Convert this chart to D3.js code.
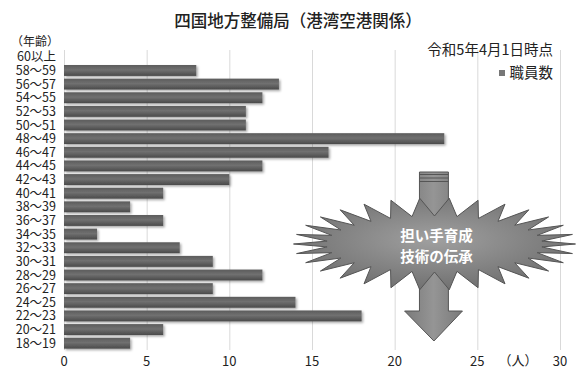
<!DOCTYPE html>
<html>
<head>
<meta charset="utf-8">
<script src="https://cdn.jsdelivr.net/npm/d3@7"></script>
<style>
  body { margin: 0; background: #fff; }
  svg { font-family: "Noto Sans CJK JP", "Noto Sans", sans-serif; }
</style>
</head>
<body>
<div id="chart"></div>
<script>
// age groups, top to bottom
const ages = ["60以上", "58～59", "56～57", "54～55", "52～53", "50～51", "48～49", "46～47",
  "44～45", "42～43", "40～41", "38～39", "36～37", "34～35", "32～33", "30～31",
  "28～29", "26～27", "24～25", "22～23", "20～21", "18～19"];
// 職員数 per age group
const staff = [0, 8, 13, 12, 11, 11, 23, 16, 12, 10, 6, 4, 6, 2, 7, 9, 12, 9, 14, 18, 6, 4];
const xTicks = [0, 5, 10, 15, 20, 25, 30];

const width = 576;
const height = 371;
const margin = { top: 50, right: 16, bottom: 21, left: 64 };

const svg = d3.select("#chart").append("svg")
  .attr("width", width)
  .attr("height", height);

const defs = svg.append("defs");

// bar shading
const barGrad = defs.append("linearGradient")
  .attr("id", "barGrad")
  .attr("x1", 0).attr("y1", 0).attr("x2", 0).attr("y2", 1);
barGrad.append("stop").attr("offset", "0%").attr("stop-color", "#5c5c5c");
barGrad.append("stop").attr("offset", "45%").attr("stop-color", "#707070");
barGrad.append("stop").attr("offset", "100%").attr("stop-color", "#4a4a4a");

const shadow = defs.append("filter").attr("id", "shadow")
  .attr("x", "-5%").attr("y", "-30%").attr("width", "115%").attr("height", "170%");
shadow.append("feDropShadow")
  .attr("dx", 1.5).attr("dy", 1.5).attr("stdDeviation", 1.2)
  .attr("flood-color", "#000").attr("flood-opacity", 0.35);

const burstGrad = defs.append("radialGradient")
  .attr("id", "burstGrad").attr("cx", "50%").attr("cy", "45%").attr("r", "60%");
burstGrad.append("stop").attr("offset", "0%").attr("stop-color", "#a0a0a0");
burstGrad.append("stop").attr("offset", "100%").attr("stop-color", "#6c6c6c");

const arrowGrad = defs.append("linearGradient")
  .attr("id", "arrowGrad").attr("x1", 0).attr("y1", 0).attr("x2", 1).attr("y2", 0);
arrowGrad.append("stop").attr("offset", "0%").attr("stop-color", "#7a7a7a");
arrowGrad.append("stop").attr("offset", "50%").attr("stop-color", "#959595");
arrowGrad.append("stop").attr("offset", "100%").attr("stop-color", "#7a7a7a");

// Scales
const xScale = d3.scaleLinear()
  .domain([0, 30])
  .range([margin.left, width - margin.right]);

const yScale = d3.scaleBand()
  .domain(ages)
  .range([margin.top, height - margin.bottom])
  .paddingInner(0.2)
  .paddingOuter(0.1);

// vertical grid lines
svg.append("g")
  .attr("class", "grid")
  .attr("transform", `translate(0,${height - margin.bottom})`)
  .call(d3.axisBottom(xScale).tickValues(xTicks).tickSize(-(height - margin.top - margin.bottom)).tickFormat(""))
  .call(g => g.select(".domain").remove())
  .call(g => g.selectAll("line").attr("stroke", "#d9d9d9").attr("stroke-width", 1));

// bars
svg.append("g")
  .selectAll("rect")
  .data(staff)
  .join("rect")
  .attr("x", xScale(0))
  .attr("y", (d, i) => yScale(ages[i]))
  .attr("width", d => xScale(d) - xScale(0))
  .attr("height", yScale.bandwidth())
  .attr("fill", "url(#barGrad)")
  .attr("filter", "url(#shadow)");

// y labels
svg.append("g")
  .selectAll("text")
  .data(ages)
  .join("text")
  .attr("x", 56)
  .attr("y", d => yScale(d) + yScale.bandwidth() / 2)
  .attr("dy", "0.36em")
  .attr("text-anchor", "end")
  .attr("font-size", 12.5)
  .attr("fill", "#222")
  .text(d => d);

// x tick labels
svg.append("g")
  .selectAll("text")
  .data(xTicks)
  .join("text")
  .attr("x", d => xScale(d))
  .attr("y", 366)
  .attr("text-anchor", "middle")
  .attr("font-size", 13)
  .attr("fill", "#222")
  .text(d => d);

svg.append("text")
  .attr("x", 518)
  .attr("y", 365)
  .attr("text-anchor", "middle")
  .attr("font-size", 13)
  .attr("fill", "#222")
  .text("（人）");

// Titles
svg.append("text")
  .attr("x", 298)
  .attr("y", 27)
  .attr("text-anchor", "middle")
  .attr("font-size", 16.5)
  .attr("font-weight", 500)
  .attr("fill", "#222")
  .text("四国地方整備局（港湾空港関係）");

svg.append("text")
  .attr("x", 11)
  .attr("y", 46)
  .attr("font-size", 12)
  .attr("fill", "#222")
  .text("（年齢）");

svg.append("text")
  .attr("x", 553)
  .attr("y", 55)
  .attr("text-anchor", "end")
  .attr("font-size", 14.5)
  .attr("fill", "#222")
  .text("令和5年4月1日時点");

// legend
svg.append("rect")
  .attr("x", 499).attr("y", 70).attr("width", 6).attr("height", 6)
  .attr("fill", "#777");
svg.append("text")
  .attr("x", 553)
  .attr("y", 77.5)
  .attr("text-anchor", "end")
  .attr("font-size", 14.5)
  .attr("fill", "#222")
  .text("職員数");

// decoration: arrow with starburst
const deco = svg.append("g");
const ax0 = xScale(21.5), ax1 = xScale(23.25);
const headL = xScale(20.6), headR = xScale(24.1);
const cxA = (ax0 + ax1) / 2;
const topY = 172, shoulderY = 311, tipY = 341;

deco.append("path")
  .attr("d", `M${ax0},${topY}L${ax1},${topY}L${ax1},${shoulderY}L${headR},${shoulderY}L${cxA},${tipY}L${headL},${shoulderY}L${ax0},${shoulderY}Z`)
  .attr("fill", "url(#arrowGrad)")
  .attr("stroke", "#555")
  .attr("stroke-width", 1);

[174.5, 178, 181.5].forEach(y => {
  deco.append("line")
    .attr("x1", ax0).attr("x2", ax1)
    .attr("y1", y).attr("y2", y)
    .attr("stroke", "#555").attr("stroke-width", 1);
});

// starburst
const bx = 434.5, by = 244;
const spikes = 30;
const pts = [];
for (let i = 0; i < spikes * 2; i++) {
  const a = (i / (spikes * 2)) * Math.PI * 2;
  const outer = i % 2 === 0;
  const rx = outer ? 141 : 108;
  const ry = outer ? 46 : 28;
  pts.push([bx + rx * Math.cos(a), by + ry * Math.sin(a)]);
}
deco.append("path")
  .attr("d", d3.line()(pts) + "Z")
  .attr("fill", "url(#burstGrad)")
  .attr("stroke", "#555")
  .attr("stroke-width", 1);

deco.append("text")
  .attr("x", bx + 2).attr("y", 241)
  .attr("text-anchor", "middle")
  .attr("font-size", 14.5)
  .attr("font-weight", "bold")
  .attr("fill", "#fff")
  .text("担い手育成");
deco.append("text")
  .attr("x", bx + 2).attr("y", 262)
  .attr("text-anchor", "middle")
  .attr("font-size", 14.5)
  .attr("font-weight", "bold")
  .attr("fill", "#fff")
  .text("技術の伝承");
</script>
</body>
</html>
